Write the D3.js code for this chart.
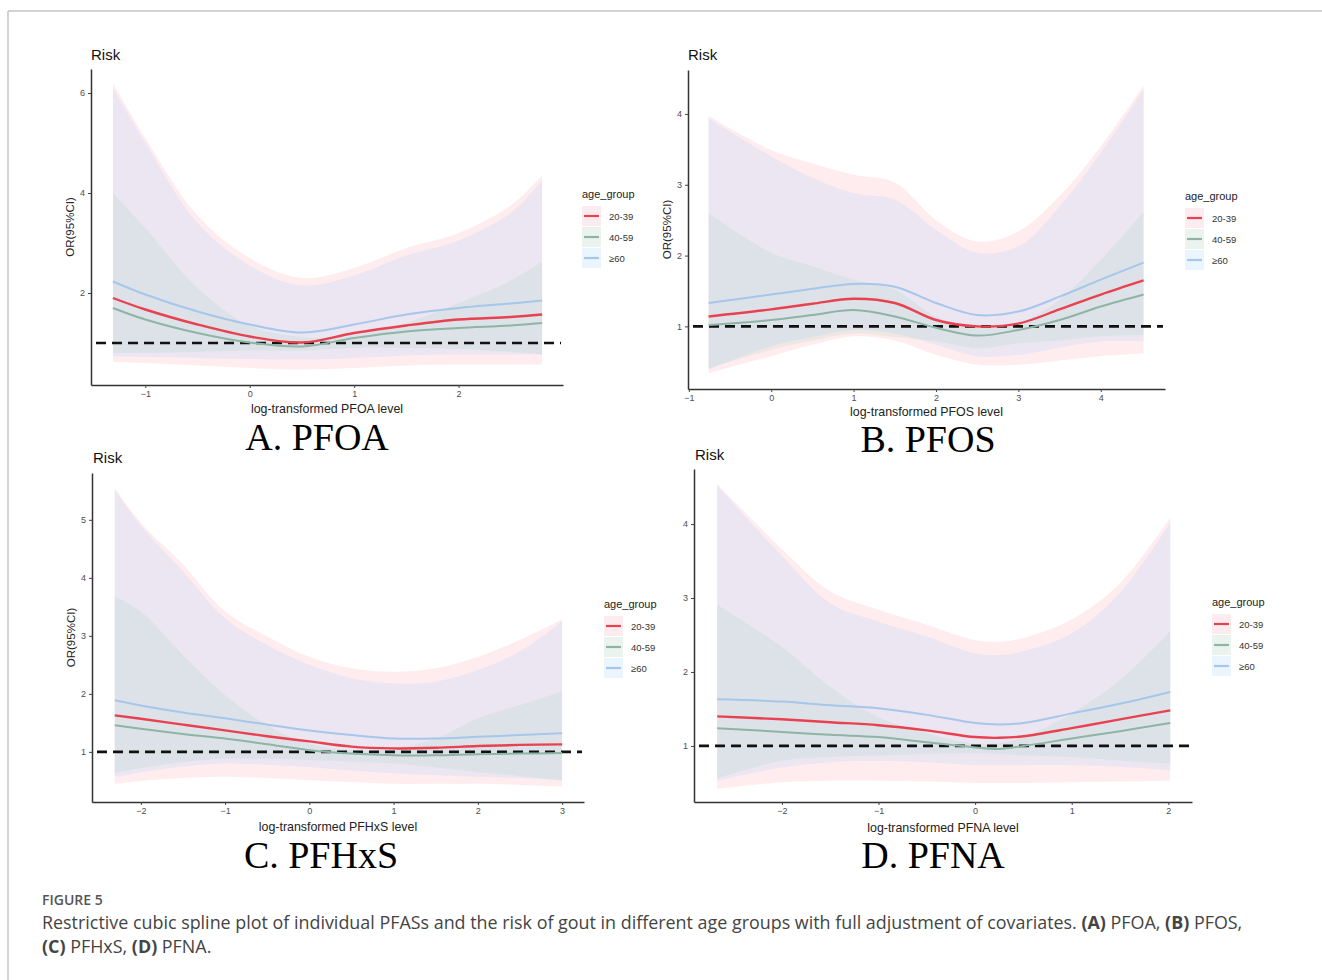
<!DOCTYPE html>
<html><head><meta charset="utf-8">
<script src="https://cdn.jsdelivr.net/npm/d3@7"></script>
<style>body{margin:0;background:#fff;} svg{display:block}</style>
</head><body><svg id="chart" width="1322" height="980"></svg>
<script>
// ---------- data ----------
const ageGroups = ["20-39", "40-59", "≥60"];

// Panel A: PFOA
const pfoaX      = [-1.31, -1, -0.5, 0, 0.5, 1, 1.5, 2, 2.5, 2.8];
const pfoaFit2039 = [1.90, 1.67, 1.37, 1.13, 1.01, 1.20, 1.35, 1.47, 1.52, 1.57];
const pfoaLo2039  = [0.62, 0.60, 0.55, 0.50, 0.47, 0.50, 0.55, 0.57, 0.57, 0.57];
const pfoaHi2039  = [6.20, 5.10, 3.55, 2.70, 2.30, 2.50, 2.90, 3.20, 3.75, 4.35];
const pfoaFit4059 = [1.70, 1.47, 1.20, 1.01, 0.93, 1.10, 1.23, 1.30, 1.35, 1.40];
const pfoaLo4059  = [0.80, 0.80, 0.82, 0.85, 0.85, 0.90, 0.90, 0.88, 0.82, 0.77];
const pfoaHi4059  = [4.00, 3.30, 2.10, 1.35, 1.12, 1.15, 1.40, 1.80, 2.25, 2.63];
const pfoaFit60   = [2.23, 1.97, 1.63, 1.37, 1.21, 1.37, 1.57, 1.70, 1.79, 1.85];
const pfoaLo60    = [0.73, 0.72, 0.70, 0.68, 0.67, 0.70, 0.75, 0.77, 0.77, 0.77];
const pfoaHi60    = [6.10, 5.00, 3.40, 2.55, 2.15, 2.35, 2.75, 3.05, 3.60, 4.25];
const pfoaXTicks = [-1, 0, 1, 2];
const pfoaYTicks = [2, 4, 6];

// Panel B: PFOS
const pfosX      = [-0.76, 0, 0.5, 1, 1.5, 2, 2.5, 3, 3.5, 4, 4.52];
const pfosFit2039 = [1.14, 1.24, 1.32, 1.39, 1.33, 1.09, 1.00, 1.04, 1.24, 1.45, 1.65];
const pfosLo2039  = [0.34, 0.58, 0.74, 0.86, 0.80, 0.60, 0.46, 0.46, 0.52, 0.58, 0.62];
const pfosHi2039  = [3.97, 3.49, 3.30, 3.14, 3.03, 2.50, 2.20, 2.34, 2.84, 3.54, 4.40];
const pfosFit4059 = [1.02, 1.09, 1.16, 1.23, 1.14, 0.98, 0.87, 0.95, 1.09, 1.28, 1.45];
const pfosLo4059  = [0.41, 0.67, 0.80, 0.90, 0.85, 0.79, 0.69, 0.76, 0.80, 0.86, 0.88];
const pfosHi4059  = [2.60, 2.04, 1.85, 1.66, 1.52, 1.14, 1.00, 1.05, 1.38, 1.94, 2.62];
const pfosFit60   = [1.33, 1.45, 1.53, 1.60, 1.56, 1.33, 1.16, 1.21, 1.42, 1.66, 1.90];
const pfosLo60    = [0.39, 0.72, 0.85, 0.95, 0.90, 0.74, 0.58, 0.60, 0.70, 0.79, 0.79];
const pfosHi60    = [3.94, 3.40, 3.10, 2.88, 2.79, 2.36, 2.04, 2.13, 2.69, 3.45, 4.34];
const pfosXTicks = [-1, 0, 1, 2, 3, 4];
const pfosYTicks = [1, 2, 3, 4];

// Panel C: PFHxS
const pfhxsX      = [-2.31, -2, -1.5, -1, -0.5, 0, 0.5, 1, 1.5, 2, 2.5, 3.0];
const pfhxsFit2039 = [1.63, 1.57, 1.47, 1.37, 1.27, 1.18, 1.09, 1.06, 1.07, 1.10, 1.12, 1.13];
const pfhxsLo2039  = [0.45, 0.50, 0.55, 0.57, 0.55, 0.51, 0.48, 0.45, 0.45, 0.45, 0.43, 0.40];
const pfhxsHi2039  = [5.55, 4.95, 4.23, 3.42, 2.99, 2.64, 2.44, 2.38, 2.44, 2.64, 2.93, 3.28];
const pfhxsFit4059 = [1.46, 1.40, 1.31, 1.23, 1.13, 1.03, 0.97, 0.94, 0.94, 0.96, 0.97, 0.98];
const pfhxsLo4059  = [0.63, 0.72, 0.82, 0.88, 0.88, 0.86, 0.83, 0.80, 0.73, 0.65, 0.58, 0.51];
const pfhxsHi4059  = [3.68, 3.42, 2.67, 1.98, 1.46, 1.14, 1.03, 1.06, 1.23, 1.58, 1.81, 2.04];
const pfhxsFit60   = [1.89, 1.80, 1.68, 1.58, 1.47, 1.37, 1.29, 1.23, 1.23, 1.26, 1.29, 1.32];
const pfhxsLo60    = [0.57, 0.65, 0.75, 0.80, 0.78, 0.74, 0.68, 0.63, 0.60, 0.57, 0.55, 0.51];
const pfhxsHi60    = [5.52, 4.90, 4.11, 3.30, 2.84, 2.50, 2.27, 2.18, 2.21, 2.41, 2.73, 3.25];
const pfhxsXTicks = [-2, -1, 0, 1, 2, 3];
const pfhxsYTicks = [1, 2, 3, 4, 5];

// Panel D: PFNA
const pfnaX      = [-2.67, -2, -1.5, -1, -0.5, 0, 0.25, 0.5, 1, 1.5, 2.02];
const pfnaFit2039 = [1.40, 1.36, 1.32, 1.28, 1.21, 1.12, 1.11, 1.13, 1.24, 1.36, 1.48];
const pfnaLo2039  = [0.42, 0.51, 0.53, 0.53, 0.52, 0.50, 0.50, 0.50, 0.51, 0.52, 0.53];
const pfnaHi2039  = [4.54, 3.66, 3.09, 2.84, 2.64, 2.43, 2.41, 2.46, 2.71, 3.20, 4.09];
const pfnaFit4059 = [1.24, 1.19, 1.15, 1.12, 1.05, 0.98, 0.96, 1.00, 1.10, 1.20, 1.31];
const pfnaLo4059  = [0.56, 0.80, 0.85, 0.87, 0.89, 0.90, 0.89, 0.87, 0.85, 0.80, 0.76];
const pfnaHi4059  = [2.91, 2.34, 1.80, 1.39, 1.17, 1.03, 1.04, 1.12, 1.44, 1.89, 2.55];
const pfnaFit60   = [1.63, 1.60, 1.55, 1.51, 1.42, 1.31, 1.29, 1.31, 1.44, 1.57, 1.73];
const pfnaLo60    = [0.53, 0.71, 0.78, 0.80, 0.78, 0.74, 0.74, 0.74, 0.74, 0.72, 0.67];
const pfnaHi60    = [4.52, 3.57, 2.93, 2.68, 2.48, 2.25, 2.23, 2.28, 2.52, 3.07, 4.02];
const pfnaXTicks = [-2, -1, 0, 1, 2];
const pfnaYTicks = [1, 2, 3, 4];

const refValue = 1;

// ---------- styles ----------
const lineColors = ["#e8414f", "#8db4a4", "#a6c6ea"];
const bandColors = ["#f88094", "#93d0a6", "#7dc8ff"];
const bandOpacity = 0.15;
const keyFills = ["#fdecef", "#eaf3ee", "#ebf5fd"];

const panels = [
  { xs: pfoaX, fits: [pfoaFit2039, pfoaFit4059, pfoaFit60], los: [pfoaLo2039, pfoaLo4059, pfoaLo60], his: [pfoaHi2039, pfoaHi4059, pfoaHi60],
    xTicks: pfoaXTicks, yTicks: pfoaYTicks, title: "A. PFOA", xTitle: "log-transformed PFOA level",
    xDomain: [-1.52, 3.0], yDomain: [0.16, 6.48], xRange: [91, 563], yRange: [385, 69],
    risk: [91, 60], sub: [317, 450], xTitleY: 413, legend: [582, 198], yTitle: true },
  { xs: pfosX, fits: [pfosFit2039, pfosFit4059, pfosFit60], los: [pfosLo2039, pfosLo4059, pfosLo60], his: [pfosHi2039, pfosHi4059, pfosHi60],
    xTicks: pfosXTicks, yTicks: pfosYTicks, title: "B. PFOS", xTitle: "log-transformed PFOS level",
    xDomain: [-1.01, 4.78], yDomain: [0.116, 4.62], xRange: [688, 1165], yRange: [389, 70],
    risk: [688, 60], sub: [928, 452], xTitleY: 415.5, legend: [1185, 200], yTitle: true },
  { xs: pfhxsX, fits: [pfhxsFit2039, pfhxsFit4059, pfhxsFit60], los: [pfhxsLo2039, pfhxsLo4059, pfhxsLo60], his: [pfhxsHi2039, pfhxsHi4059, pfhxsHi60],
    xTicks: pfhxsXTicks, yTicks: pfhxsYTicks, title: "C. PFHxS", xTitle: "log-transformed PFHxS level",
    xDomain: [-2.58, 3.26], yDomain: [0.136, 5.807], xRange: [92, 584], yRange: [802, 473],
    risk: [93, 463], sub: [321, 867.5], xTitleY: 831, legend: [604, 608], yTitle: true },
  { xs: pfnaX, fits: [pfnaFit2039, pfnaFit4059, pfnaFit60], los: [pfnaLo2039, pfnaLo4059, pfnaLo60], his: [pfnaHi2039, pfnaHi4059, pfnaHi60],
    xTicks: pfnaXTicks, yTicks: pfnaYTicks, title: "D. PFNA", xTitle: "log-transformed PFNA level",
    xDomain: [-2.91, 2.245], yDomain: [0.242, 4.744], xRange: [694, 1192], yRange: [802, 469],
    risk: [695, 460], sub: [933, 867.5], xTitleY: 831.5, legend: [1212, 606], yTitle: false }
];

const svg = d3.select("#chart");
const sans = "'Liberation Sans', Arial, sans-serif";

// frame
svg.append("line").attr("x1", 8).attr("x2", 1322).attr("y1", 11).attr("y2", 11).attr("stroke", "#c4c4c4").attr("stroke-width", 1.5);
svg.append("line").attr("x1", 8).attr("x2", 8).attr("y1", 11).attr("y2", 980).attr("stroke", "#c4c4c4").attr("stroke-width", 1.5);

panels.forEach(p => {
  const g = svg.append("g");
  const x = d3.scaleLinear().domain(p.xDomain).range(p.xRange);
  const y = d3.scaleLinear().domain(p.yDomain).range(p.yRange);
  const curve = d3.curveCatmullRom.alpha(0.5);

  // ribbons (ggplot order: 20-39, 40-59, ≥60)
  [0, 1, 2].forEach(i => {
    const pts = p.xs.map((xv, j) => ({ x: xv, lo: p.los[i][j], hi: p.his[i][j] }));
    g.append("path")
      .attr("d", d3.area().x(d => x(d.x)).y0(d => y(d.lo)).y1(d => y(d.hi)).curve(curve)(pts))
      .attr("fill", bandColors[i]).attr("fill-opacity", bandOpacity);
  });

  // reference dashed line
  g.append("line")
    .attr("x1", p.xRange[0] + 5).attr("x2", p.xRange[1] - 2)
    .attr("y1", y(refValue)).attr("y2", y(refValue))
    .attr("stroke", "#111").attr("stroke-width", 2.7).attr("stroke-dasharray", "10,6");

  // lines
  [0, 1, 2].forEach(i => {
    const pts = p.xs.map((xv, j) => ({ x: xv, v: p.fits[i][j] }));
    g.append("path")
      .attr("d", d3.line().x(d => x(d.x)).y(d => y(d.v)).curve(curve)(pts))
      .attr("fill", "none").attr("stroke", lineColors[i]).attr("stroke-width", i === 0 ? 2.4 : 2);
  });

  // axes
  const xAxis = g.append("g").attr("transform", `translate(0,${p.yRange[0]})`)
    .call(d3.axisBottom(x).tickValues(p.xTicks).tickSize(3).tickSizeOuter(0).tickPadding(3).tickFormat(d3.format("d")));
  const yAxis = g.append("g").attr("transform", `translate(${p.xRange[0]},0)`)
    .call(d3.axisLeft(y).tickValues(p.yTicks).tickSize(3).tickSizeOuter(0).tickPadding(3).tickFormat(d3.format("d")));
  [xAxis, yAxis].forEach(a => {
    a.select(".domain").attr("stroke", "#333").attr("stroke-width", 1.5);
    a.selectAll(".tick line").attr("stroke", "#444").attr("stroke-width", 1);
    a.selectAll(".tick text").attr("fill", "#4d4d4d").style("font-family", sans).style("font-size", "9px");
  });

  // titles
  g.append("text").attr("x", p.risk[0]).attr("y", p.risk[1]).text("Risk")
    .style("font-family", sans).style("font-size", "15px").attr("fill", "#111");
  g.append("text").attr("x", (p.xRange[0] + p.xRange[1]) / 2).attr("y", p.xTitleY)
    .attr("text-anchor", "middle").text(p.xTitle)
    .style("font-family", sans).style("font-size", "12.4px").attr("fill", "#222");
  if (p.yTitle) {
    const cy = (p.yRange[0] + p.yRange[1]) / 2;
    g.append("text").attr("transform", `translate(${p.xRange[0] - 17},${cy}) rotate(-90)`)
      .attr("text-anchor", "middle").text("OR(95%CI)")
      .style("font-family", sans).style("font-size", "11.5px").attr("fill", "#222");
  }
  g.append("text").attr("x", p.sub[0]).attr("y", p.sub[1]).attr("text-anchor", "middle").text(p.title)
    .style("font-family", "'Liberation Serif', 'Times New Roman', serif").style("font-size", "38px").attr("fill", "#000");

  // legend
  const lg = g.append("g").attr("transform", `translate(${p.legend[0]},${p.legend[1]})`);
  lg.append("text").attr("x", 0).attr("y", 0).text("age_group")
    .style("font-family", sans).style("font-size", "11px").attr("fill", "#222");
  ageGroups.forEach((a, i) => {
    const cy = 18 + i * 21;
    lg.append("rect").attr("x", 0).attr("y", cy - 10).attr("width", 19).attr("height", 20).attr("fill", keyFills[i]);
    lg.append("line").attr("x1", 2).attr("x2", 17).attr("y1", cy).attr("y2", cy)
      .attr("stroke", lineColors[i]).attr("stroke-width", 2.2);
    lg.append("text").attr("x", 27).attr("y", cy + 3.5).text(a)
      .style("font-family", sans).style("font-size", "9.5px").attr("fill", "#333");
  });
});

// caption
const cap = svg.append("g").style("font-family", "'Open Sans', sans-serif");
cap.append("text").attr("x", 42).attr("y", 905).text("FIGURE 5")
  .style("font-size", "14px").style("font-weight", 600).attr("fill", "#555");
const line1 = cap.append("text").attr("x", 42).attr("y", 929).style("font-size", "17.9px").attr("fill", "#444");
line1.append("tspan").text("Restrictive cubic spline plot of individual PFASs and the risk of gout in different age groups with full adjustment of covariates. ");
line1.append("tspan").text("(A)").style("font-weight", 700);
line1.append("tspan").text(" PFOA, ");
line1.append("tspan").text("(B)").style("font-weight", 700);
line1.append("tspan").text(" PFOS,");
const line2 = cap.append("text").attr("x", 42).attr("y", 953).style("font-size", "17.9px").attr("fill", "#444");
line2.append("tspan").text("(C)").style("font-weight", 700);
line2.append("tspan").text(" PFHxS, ");
line2.append("tspan").text("(D)").style("font-weight", 700);
line2.append("tspan").text(" PFNA.");
</script></body></html>
